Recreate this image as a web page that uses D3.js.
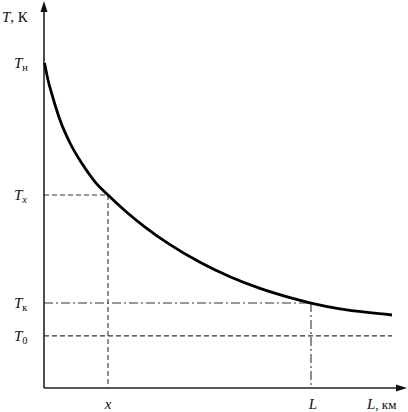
<!DOCTYPE html>
<html><head><meta charset="utf-8">
<script src="https://cdn.jsdelivr.net/npm/d3@7"></script>
<style>body{margin:0;background:#fff}svg{display:block}text{font-family:"Liberation Serif","DejaVu Serif",serif;fill:#111}</style>
</head><body>
<script>
// curve data (distance L, temperature T) in relative units
const distance = [0.14, 1.11, 2.49, 4.43, 7.20, 10.53, 14.13, 17.73, 22.44, 27.98, 34.90, 43.21, 51.52, 59.83, 68.14, 73.96, 82.00, 90.30, 96.40];
const temperature = [84.86, 80.42, 75.72, 69.97, 63.97, 58.59, 53.84, 50.39, 46.29, 42.01, 37.44, 32.85, 29.06, 26.01, 23.60, 22.19, 20.68, 19.66, 19.06];
const markX = 17.73, markL = 73.96;
const levelTx = 50.39, levelTk = 22.19, levelT0 = 13.6, levelTn = 84.86;
const yLabels = [{main:"T", sub:"н", v:levelTn, it:false}, {main:"T", sub:"x", v:levelTx, it:true}, {main:"T", sub:"к", v:levelTk, it:false}, {main:"T", sub:"0", v:levelT0, it:false}];

const W = 408, H = 412;
const svg = d3.select("body").append("svg").attr("width", W).attr("height", H);
const x = d3.scaleLinear().domain([0, 100]).range([44, 405]);
const y = d3.scaleLinear().domain([0, 100]).range([388, 5]);

// axes
const axisColor = "#222";
svg.append("line").attr("x1", x(0)).attr("y1", y(0)).attr("x2", x(0)).attr("y2", 10)
  .attr("stroke", axisColor).attr("stroke-width", 1.6);
svg.append("line").attr("x1", x(0)).attr("y1", y(0)).attr("x2", 400).attr("y2", y(0))
  .attr("stroke", axisColor).attr("stroke-width", 1.6);
svg.append("path").attr("d", `M${x(0)},1 L${x(0)-3.5},12 L${x(0)+3.5},12 Z`).attr("fill", "#111");
svg.append("path").attr("d", `M407,${y(0)} L396,${y(0)-3.5} L396,${y(0)+3.5} Z`).attr("fill", "#111");

// guide lines
const dash = "5,3", dashdot = "9,3,2,3";
function guide(x1,y1,x2,y2,da){
  svg.append("line").attr("x1",x1).attr("y1",y1).attr("x2",x2).attr("y2",y2)
    .attr("stroke","#333").attr("stroke-width",1.1).attr("stroke-dasharray",da);
}
guide(x(0), y(levelTx), x(markX), y(levelTx), dash);
guide(x(markX), y(levelTx), x(markX), y(0), dash);
guide(x(0), y(levelTk), x(markL), y(levelTk), dashdot);
guide(x(markL), y(levelTk), x(markL), y(0), dashdot);
guide(x(0), y(levelT0), x(distance[distance.length-1]), y(levelT0), dash);

// curve
const pts = distance.map((d,i)=>[d, temperature[i]]);
svg.append("path").datum(pts)
  .attr("d", d3.line().x(d=>x(d[0])).y(d=>y(d[1])).curve(d3.curveMonotoneX))
  .attr("fill","none").attr("stroke","#000").attr("stroke-width",2.8);

// y labels
yLabels.forEach(l=>{
  const t = svg.append("text").attr("x", 14).attr("y", y(l.v)+5).attr("font-size", 15);
  t.append("tspan").attr("font-style","italic").text(l.main);
  t.append("tspan").attr("font-size", 10.5).attr("dy", 3).attr("font-style", l.it ? "italic" : "normal").text(l.sub);
});
// axis titles
const ty = svg.append("text").attr("x", 2).attr("y", 22).attr("font-size", 15);
ty.append("tspan").attr("font-style","italic").text("T");
ty.append("tspan").text(", К");
svg.append("text").attr("x", x(markX)).attr("y", 409).attr("text-anchor","middle").attr("font-size",15)
  .attr("font-style","italic").text("x");
svg.append("text").attr("x", x(markL)+2).attr("y", 409).attr("text-anchor","middle").attr("font-size",15)
  .attr("font-style","italic").text("L");
const tx = svg.append("text").attr("x", 367).attr("y", 409).attr("font-size", 15);
tx.append("tspan").attr("font-style","italic").text("L");
tx.append("tspan").attr("font-size", 13).text(", км");
</script>
</body></html>
